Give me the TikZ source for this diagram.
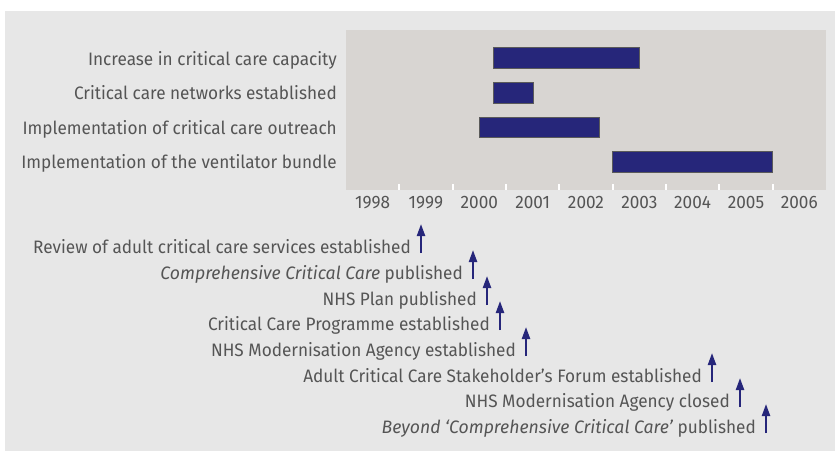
\documentclass[tikz,border=0pt]{standalone}
\usepackage{fontspec}
\setmainfont{Fira Sans}[FakeStretch=0.955, ItalicFeatures={FakeStretch=0.98}]
\usetikzlibrary{arrows.meta}
\definecolor{bgc}{HTML}{E7E7E7}
\definecolor{plotc}{HTML}{D8D5D2}
\definecolor{barc}{HTML}{26267A}
\definecolor{txtc}{HTML}{555555}
\definecolor{bard}{HTML}{5A5A5A}
\begin{document}
\begin{tikzpicture}[x=1pt,y=-1pt,
  lbl/.style={font=\fontsize{18}{18}\selectfont, text=txtc, inner sep=0pt, anchor=base east},
  yr/.style={font=\fontsize{18}{18}\selectfont, text=txtc, inner sep=0pt, anchor=base},
  bar/.style={fill=barc, draw=bard, line width=1pt},
  tk/.style={draw=white, line width=2pt},
  evt/.style={draw=barc, line width=2.2pt, -{Triangle[length=12pt,width=8pt]}}
]
\useasboundingbox (0,0) rectangle (835,451);
\fill[bgc] (5,11) rectangle (835,451);
\fill[plotc] (346,30) rectangle (826,190);
% bars
\draw[bar] (493,47.7) rectangle (639,68.7);
\draw[bar] (493,82) rectangle (533,103);
\draw[bar] (479,117) rectangle (599,137);
\draw[bar] (612,151) rectangle (772,172);
% row labels
\node[lbl] (r1) at (337,65) {Increase in critical care capacity};
\node[lbl] (r2) at (337,99.5) {Critical care networks established};
\node[lbl] (r3) at (337,134) {Implementation of critical care outreach};
\node[lbl] (r4) at (337,168.5) {Implementation of the ventilator bundle};
% ticks and years
\foreach \k in {1,...,8}{
  \draw[tk] ({346+53.33*\k},184) -- ({346+53.33*\k},190);
}
\foreach \k/\yy in {0/1998,1/1999,2/2000,3/2001,4/2002,5/2003,6/2004,7/2005,8/2006}{
  \node[yr] (y\yy) at ({346+53.33*\k+26.67},208) {\yy};
}
% events
\foreach \i/\xx/\bb in {1/421/253,2/473/279,3/487/305,4/500/330,5/526/356,6/712/382,7/740/407,8/766/433}{
  \coordinate (b\i) at (\xx,\bb);
  \coordinate (t\i) at (\xx,\bb-29);
  \draw[evt] (b\i) -- (t\i);
}
\node[lbl] (e1) at ([xshift=-10pt]b1) {Review of adult critical care services established};
\node[lbl] (e2) at ([xshift=-10pt]b2) {\textit{Comprehensive Critical Care} published};
\node[lbl] (e3) at ([xshift=-10pt]b3) {NHS Plan published};
\node[lbl] (e4) at ([xshift=-10pt]b4) {Critical Care Programme established};
\node[lbl] (e5) at ([xshift=-10pt]b5) {NHS Modernisation Agency established};
\node[lbl] (e6) at ([xshift=-10pt]b6) {Adult Critical Care Stakeholder’s Forum established};
\node[lbl] (e7) at ([xshift=-10pt]b7) {NHS Modernisation Agency closed};
\node[lbl] (e8) at ([xshift=-10pt]b8) {\textit{Beyond ‘Comprehensive Critical Care’} published};
\end{tikzpicture}
\end{document}
